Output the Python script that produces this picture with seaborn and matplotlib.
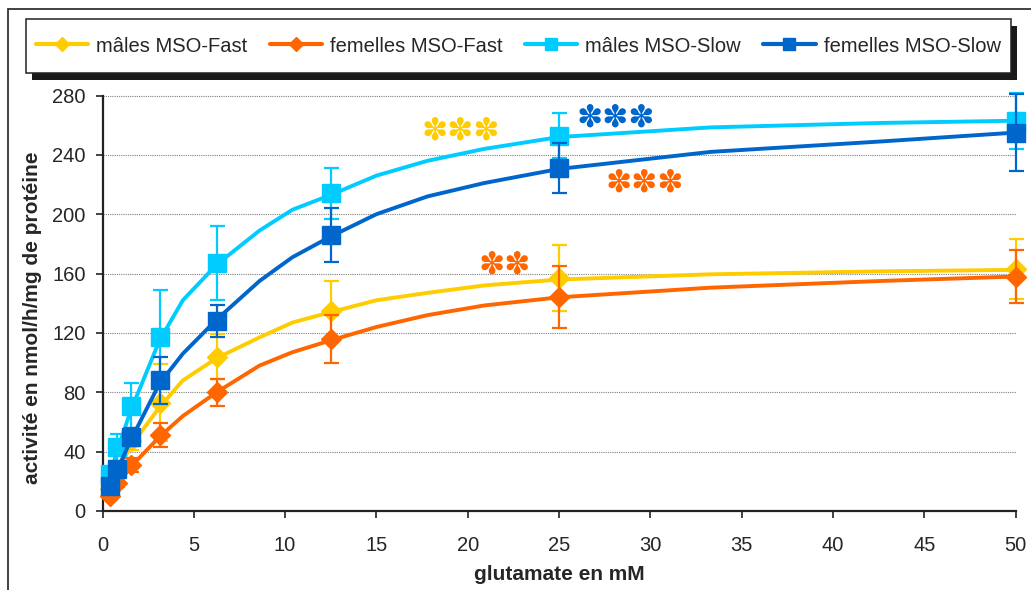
import matplotlib
matplotlib.use("Agg")
import matplotlib.pyplot as plt
import pandas as pd
import seaborn as sns
from matplotlib.lines import Line2D
from matplotlib.patches import Rectangle

# glutamate concentrations (mM)
conc = [0.39, 0.78, 1.56, 3.125, 6.25, 12.5, 25, 50]

# measured activity (mean) and error bars
males_fast = [15, 27, 47, 73, 104, 135, 157, 163]
males_fast_err = [3, 4, 6, 26, 15, 20, 22, 20]
females_fast = [10, 19, 31, 51, 80, 116, 144, 158]
females_fast_err = [2, 3, 5, 8, 9, 16, 21, 18]
males_slow = [25, 43, 71, 117, 167, 214, 253, 263]
males_slow_err = [4, 9, 15, 32, 25, 17, 15, 19]
females_slow = [17, 28, 50, 88, 128, 186, 231, 255]
females_slow_err = [3, 5, 6, 16, 11, 18, 17, 26]

# fitted curves
fit_x = [0.39, 0.78, 1.56, 3.125, 4.4, 6.25, 8.6, 10.4, 12.5, 15, 17.8, 20.9, 25, 33.3, 42.6, 50]
fit_males_fast = [14, 26, 44, 70, 88, 103, 117, 127, 134, 142, 147, 152, 156, 159.5, 161.5, 162.5]
fit_females_fast = [9, 17, 30, 50, 64, 80, 98, 107, 115, 124, 132, 138.5, 144, 150.5, 155, 158]
fit_males_slow = [22, 40, 68, 115, 142, 166, 189, 203, 213, 226, 236, 244, 252, 258.5, 261.5, 263]
fit_females_slow = [15, 27, 48, 86, 106, 129, 155, 171, 185, 200, 212, 221, 230.5, 242, 249, 255]

labels = ["mâles MSO-Fast", "femelles MSO-Fast", "mâles MSO-Slow", "femelles MSO-Slow"]
colors = ["#FFCC00", "#FF6600", "#00CCFF", "#0066CC"]
markers = ["D", "D", "s", "s"]

sns.set_style("ticks")
plt.rcParams["font.family"] = ["Liberation Sans", "DejaVu Sans"]

W, H = 1031, 590
fig = plt.figure(figsize=(W / 100, H / 100), dpi=100)
ax = fig.add_axes([102.5 / W, 1 - 511 / H, 913 / W, 415.5 / H])

means = [males_fast, females_fast, males_slow, females_slow]
errs = [males_fast_err, females_fast_err, males_slow_err, females_slow_err]
fits = [fit_males_fast, fit_females_fast, fit_males_slow, fit_females_slow]

for i, lab in enumerate(labels):
    fit_df = pd.DataFrame({"x": fit_x, "y": fits[i]})
    sns.lineplot(data=fit_df, x="x", y="y", ax=ax, color=colors[i], lw=2.8,
                 zorder=3 + 2 * i, sort=False)
    ms = 10.3 if markers[i] == "D" else 12.8
    ax.errorbar(conc, means[i], yerr=errs[i], fmt=markers[i], ms=ms,
                color=colors[i], ecolor=colors[i], mec=colors[i],
                elinewidth=1.6, capsize=5.4, capthick=1.6,
                zorder=4 + 2 * i, clip_on=False)

# significance stars
stars = [("✽✽✽", 19.6, 256, colors[0]),
         ("✽✽✽", 28.1, 265, colors[3]),
         ("✽✽✽", 29.7, 221, colors[1]),
         ("✽✽", 22.0, 166, colors[1])]
for txt, sx, sy, c in stars:
    ax.text(sx, sy, txt, color=c, fontsize=22.5, ha="center", va="center",
            family="DejaVu Sans", zorder=20)

ax.set_xlim(0, 50)
ax.set_ylim(0, 280)
ax.set_xticks(range(0, 51, 5))
ax.set_yticks(range(0, 281, 40))
ax.yaxis.grid(True, linestyle=(0, (1, 1)), color="#808080", lw=0.8)
ax.set_axisbelow(True)
sns.despine(ax=ax)
for s in ["left", "bottom"]:
    ax.spines[s].set_color("#222222")
    ax.spines[s].set_linewidth(1.6)
ax.tick_params(axis="x", length=5, width=1.2, color="#222222", pad=13, labelsize=14.5)
ax.tick_params(axis="y", length=5, width=1.2, color="#222222", pad=7, labelsize=14.5)

ax.set_xlabel("glutamate en mM", fontsize=15, fontweight="bold", labelpad=7)
ax.set_ylabel("activité en nmol/h/mg de protéine", fontsize=15, fontweight="bold")
ax.yaxis.set_label_coords(-0.066, 0.465)

# outer chart frame
fig.add_artist(Rectangle((8 / W, -0.1), 1.2, 1.1 - 9.3 / H, transform=fig.transFigure,
                         fill=False, edgecolor="#333333", lw=1.3, zorder=0))

# legend box with shadow
lx0, ly0, lx1, ly1 = 26, 19.3, 1010.7, 72.7
fig.add_artist(Rectangle(((lx0 + 6) / W, 1 - (ly1 + 7) / H), (lx1 - lx0) / W, (ly1 - ly0) / H,
                         transform=fig.transFigure, facecolor="#1a1a1a", edgecolor="none", zorder=1))
fig.add_artist(Rectangle((lx0 / W, 1 - ly1 / H), (lx1 - lx0) / W, (ly1 - ly0) / H,
                         transform=fig.transFigure, facecolor="white", edgecolor="#222222",
                         lw=1.1, zorder=2))
handles = [Line2D([], [], color=colors[i], lw=3, marker=markers[i],
                  ms=7 if markers[i] == "D" else 8) for i in range(4)]
fig.legend(handles, labels, loc="center", bbox_to_anchor=((lx0 + lx1) / 2 / W, 1 - (ly0 + ly1) / 2 / H),
           ncol=4, frameon=False, fontsize=14.5, handlelength=2.6, handletextpad=0.4,
           columnspacing=1.1)

fig.savefig("out.png", dpi=100)
